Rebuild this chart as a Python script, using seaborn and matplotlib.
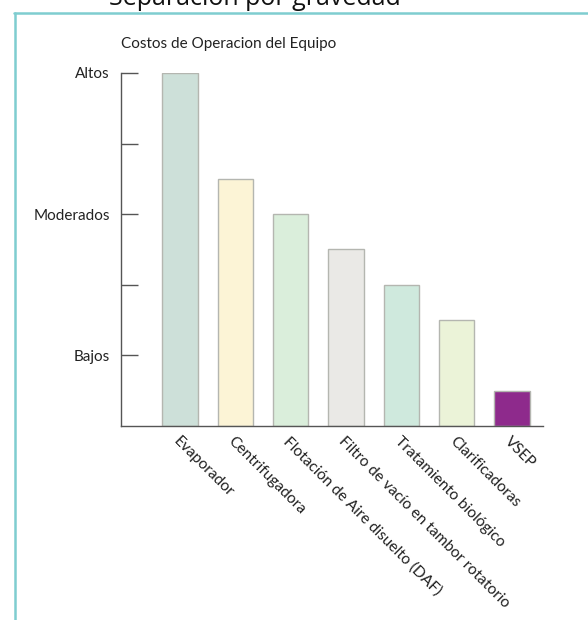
import matplotlib
matplotlib.use("Agg")
import matplotlib.pyplot as plt
import seaborn as sns
import pandas as pd
from matplotlib.lines import Line2D

categories = ["Evaporador", "Centrifugadora", "Flotación de Aire disuelto (DAF)",
              "Filtro de vacío en tambor rotatorio", "Tratamiento biológico",
              "Clarificadoras", "VSEP"]
values = [5.0, 3.5, 3.0, 2.5, 2.0, 1.5, 0.5]
colors = ["#cde0d9", "#fcf4d6", "#daeedb", "#eae9e6", "#cfe9dd", "#ebf3d8", "#8e2a8c"]
ytick_values = [1, 2, 3, 4, 5]
ytick_labels = ["Bajos", "", "Moderados", "", "Altos"]
title = "Costos de Operacion del Equipo"
header = "Separación por gravedad"

sns.set_style("white")
plt.rcParams["font.family"] = ["Lato", "DejaVu Sans"]

W, H = 588, 620
fig = plt.figure(figsize=(W / 100, H / 100), dpi=100)
ax = fig.add_axes([121 / W, 1 - 426 / H, (543 - 121) / W, (426 - 73) / H])

df = pd.DataFrame({"cat": categories, "val": values})
sns.barplot(data=df, x="cat", y="val", hue="cat", palette=colors, legend=False,
            width=0.64, edgecolor="#b4b6b0", linewidth=1.0, saturation=1, ax=ax)

ax.set_xlim(-1.07, 6.56)
ax.set_ylim(0, 5)
ax.set_xlabel("")
ax.set_ylabel("")
ax.set_yticks(ytick_values)
ax.set_yticklabels(ytick_labels, fontsize=11, color="#222222")
ax.tick_params(axis="y", direction="in", length=12.2, width=1, color="#555555", pad=8, left=True)
ax.tick_params(axis="x", length=0, pad=6)
ax.set_xticks(range(len(categories)))
ax.set_xticklabels(categories, rotation=-45, ha="left", va="top",
                   rotation_mode="anchor", fontsize=11.2, color="#222222")
for lbl in ax.get_xticklabels():
    lbl.set_x(lbl.get_position()[0])
for s in ["top", "right"]:
    ax.spines[s].set_visible(False)
for s in ["left", "bottom"]:
    ax.spines[s].set_color("#555555")
    ax.spines[s].set_linewidth(1)

fig.text(121 / W, 1 - 48 / H, title, fontsize=11, color="#222222", ha="left", va="baseline")
fig.text(109 / W, 1 - 5 / H, header, fontsize=18, color="#111111", ha="left", va="baseline",
         family=["Open Sans", "DejaVu Sans"])

teal = "#7fcdd0"
fig.add_artist(Line2D([14 / W, 1], [1 - 12.5 / H, 1 - 12.5 / H], color=teal, lw=1.8,
                      transform=fig.transFigure))
fig.add_artist(Line2D([14.5 / W, 14.5 / W], [0, 1 - 12.5 / H], color=teal, lw=1.8,
                      transform=fig.transFigure))

fig.savefig("out.png", dpi=100)
